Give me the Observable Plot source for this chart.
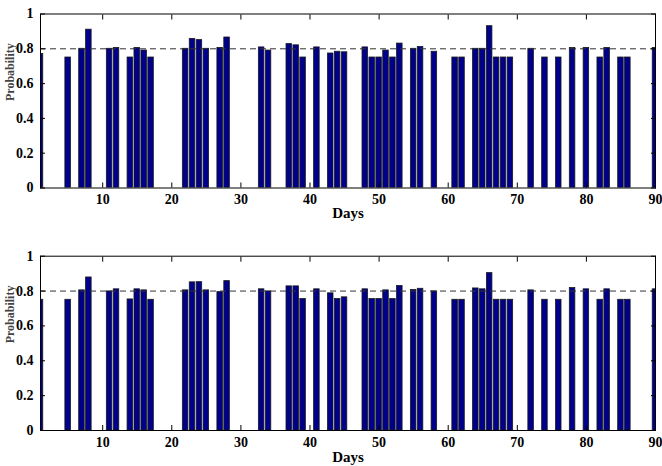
<!DOCTYPE html>
<html>
<head>
<meta charset="utf-8">
<script src="https://cdn.jsdelivr.net/npm/d3@7"></script>
<script src="https://cdn.jsdelivr.net/npm/@observablehq/plot@0.6"></script>
<style>
  body { margin: 0; background: #fff; }
  #chart svg { display: block; }
</style>
</head>
<body>
<div id="chart"></div>
<script>
const days = [1,5,7,8,11,12,14,15,16,17,22,23,24,25,27,28,33,34,37,38,39,41,43,44,45,48,49,50,51,52,53,55,56,58,61,62,64,65,66,67,68,69,72,74,76,78,80,82,83,85,86,90];
const topValues = [0.77,0.75,0.80,0.91,0.80,0.805,0.75,0.805,0.79,0.75,0.80,0.857,0.85,0.80,0.805,0.865,0.808,0.79,0.827,0.82,0.75,0.808,0.773,0.783,0.78,0.808,0.75,0.75,0.79,0.75,0.83,0.80,0.81,0.783,0.75,0.75,0.80,0.80,0.93,0.75,0.75,0.75,0.80,0.75,0.75,0.805,0.805,0.75,0.805,0.75,0.75,0.805];
const bottomValues = [0.75,0.75,0.804,0.878,0.798,0.81,0.752,0.81,0.804,0.75,0.804,0.85,0.851,0.804,0.794,0.857,0.81,0.798,0.827,0.827,0.754,0.81,0.787,0.754,0.764,0.81,0.754,0.754,0.804,0.754,0.829,0.806,0.813,0.798,0.75,0.75,0.815,0.81,0.903,0.75,0.75,0.75,0.804,0.75,0.75,0.817,0.81,0.75,0.81,0.75,0.75,0.81];
const xTicks = [10,20,30,40,50,60,70,80,90];
const yTicks = [0,0.2,0.4,0.6,0.8,1];
const threshold = 0.8;
const xLabel = "Days";
const yLabel = "Probability";

function panel(values, marginTop, marginBottom, tickPad, daysDy) {
  const data = days.map((d, i) => ({day: d, value: values[i]}));
  return Plot.plot({
    width: 662,
    height: 233,
    marginLeft: 40,
    marginRight: 7,
    marginTop,
    marginBottom,
    style: {fontFamily: "'Liberation Serif', serif", fontSize: "14px", fontWeight: "bold", color: "black", background: "white"},
    x: {type: "linear", domain: [1, 90]},
    y: {domain: [0, 1]},
    marks: [
      Plot.rectY(data, {x1: d => d.day - 0.4, x2: d => d.day + 0.4, y1: 0, y2: "value", fill: "#00008b", stroke: "#1a1a1a", strokeWidth: 0.8, clip: true}),
      Plot.ruleY([threshold], {stroke: "#333", strokeDasharray: "6,4", strokeWidth: 1}),
      Plot.frame({stroke: "black", strokeWidth: 1}),
      Plot.axisX({anchor: "bottom", ticks: xTicks, tickSize: 0, tickPadding: tickPad, tickFormat: d => String(d), label: null}),
      Plot.axisX({anchor: "bottom", ticks: xTicks, tickSize: -5, fill: "none", label: null}),
      Plot.axisX({anchor: "top", ticks: xTicks, tickSize: -5, fill: "none", label: null}),
      Plot.axisY({anchor: "left", ticks: yTicks, tickSize: 0, tickPadding: 7, tickFormat: d3.format("~g"), label: null}),
      Plot.axisY({anchor: "left", ticks: yTicks, tickSize: -5, fill: "none", label: null}),
      Plot.axisY({anchor: "right", ticks: yTicks, tickSize: -5, fill: "none", label: null}),
      Plot.text([xLabel], {frameAnchor: "bottom", dy: daysDy, text: d => d, fontSize: 15, fontWeight: "bold"}),
      Plot.text([yLabel], {frameAnchor: "left", dx: -27, rotate: -90, text: d => d, fontSize: 12, fontWeight: "bold", lineAnchor: "bottom", fill: "#444"})
    ]
  });
}

const el = document.getElementById("chart");
el.appendChild(panel(topValues, 13.5, 45.5, 6, 30));
el.appendChild(panel(bottomValues, 22.7, 36, 7, 31));
</script>
</body>
</html>
